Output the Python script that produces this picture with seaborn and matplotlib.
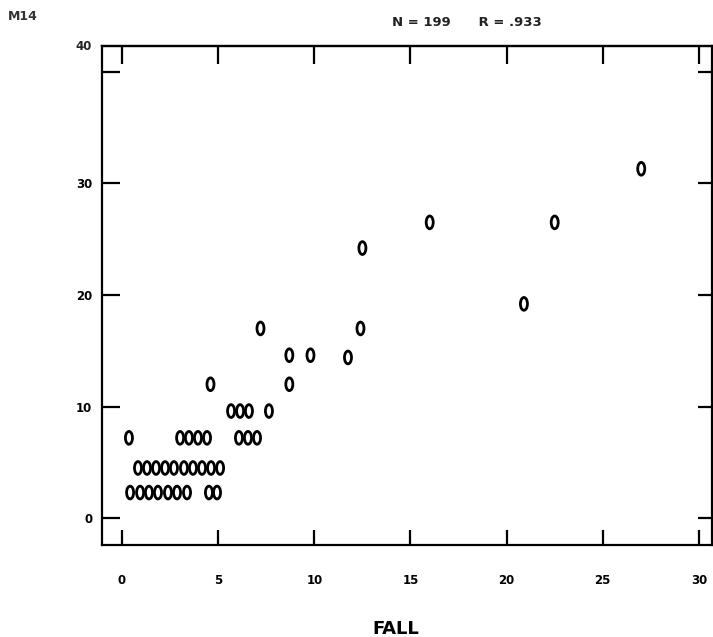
import numpy as np
import pandas as pd
import seaborn as sns
import matplotlib.pyplot as plt
from matplotlib.path import Path
from matplotlib.transforms import Affine2D

# Scores: FALL (x) against M14 (y); one ring per printed plot symbol
fall = [27.0, 16.0, 22.5, 12.5, 20.9, 7.2, 12.4, 8.7, 9.8, 11.75,
        4.6, 8.7,
        5.67, 6.14, 6.6, 7.64,
        0.36, 3.02, 3.48, 3.95, 4.42, 6.08, 6.55, 7.02,
        0.83, 1.30, 1.77, 2.24, 2.70, 3.22, 3.69, 4.16, 4.63, 5.10,
        0.42, 0.94, 1.40, 1.87, 2.39, 2.86, 3.38, 4.52, 4.94]
m14 = [31.3, 26.5, 26.5, 24.2, 19.2, 17.0, 17.0, 14.6, 14.6, 14.4,
       12.0, 12.0,
       9.6, 9.6, 9.6, 9.6,
       7.2, 7.2, 7.2, 7.2, 7.2, 7.2, 7.2, 7.2,
       4.5, 4.5, 4.5, 4.5, 4.5, 4.5, 4.5, 4.5, 4.5, 4.5,
       2.3, 2.3, 2.3, 2.3, 2.3, 2.3, 2.3, 2.3, 2.3]

x_ticks = [0, 5, 10, 15, 20, 25, 30]
y_ticks = [0, 10, 20, 30, 40]
panel_name = "M14"
stats_line = "N = 199      R = .933"
x_name = "FALL"

sns.set_theme(style="white")
plt.rcParams["font.family"] = ["DejaVu Sans"]
plt.rcParams["font.weight"] = "bold"

fig = plt.figure(figsize=(7.13, 6.37), dpi=100)
fig.patch.set_facecolor("white")
ax = fig.add_axes([0.1431, 0.1444, 0.8555, 0.7834])

# narrow ring, like a printed zero
ring = Path.unit_circle().transformed(Affine2D().scale(0.55, 1.0))

df = pd.DataFrame({"FALL": fall, "M14": m14})
sns.scatterplot(data=df, x="FALL", y="M14", marker=ring, s=85,
                color="black", facecolor="none", edgecolor="black",
                linewidth=2.0, ax=ax, legend=False)

ax.set_xlim(-1.04, 30.68)
ax.set_ylim(-2.4, 42.3)

for sp in ax.spines.values():
    sp.set_visible(True)
    sp.set_color("black")
    sp.set_linewidth(1.6)

ax.set_xticks(x_ticks)
ax.set_yticks(y_ticks)
ax.set_xticklabels([str(v) for v in x_ticks])
ax.set_yticklabels([str(v) if v != 40 else "" for v in y_ticks])
ax.tick_params(axis="x", direction="in", length=11, width=1.6, color="black",
               pad=21, labelsize=8.5, labelcolor="black", bottom=True)
ax.tick_params(axis="y", direction="in", length=13, width=1.6, color="black",
               pad=7, labelsize=8.5, labelcolor="black", left=True)
for lbl in ax.get_xticklabels() + ax.get_yticklabels():
    lbl.set_fontweight("bold")

# the top label sits above its tick
ax.annotate("40", xy=(0, 40), xycoords=("axes fraction", "data"),
            xytext=(-7, 18), textcoords="offset points",
            ha="right", va="center", fontsize=8.5, fontweight="bold")

# short inward ticks on the top and right edges
top = ax.secondary_xaxis("top")
top.set_xticks(x_ticks)
top.tick_params(direction="in", length=13, width=1.6, color="black",
                labeltop=False)
top.spines["top"].set_linewidth(1.6)
right = ax.secondary_yaxis("right")
right.set_yticks(y_ticks)
right.tick_params(direction="in", length=10, width=1.6, color="black",
                  labelright=False)

ax.set_xlabel(x_name, fontsize=13, fontweight="bold", color="black")
ax.xaxis.set_label_coords(0.482, -0.15)
ax.set_ylabel("")

fig.text(0.011, 1 - 17 / 637, panel_name, ha="left", va="center",
         fontsize=9, fontweight="bold", color="#333333")
fig.text(0.655, 1 - 22 / 637, stats_line, ha="center", va="center",
         fontsize=9.5, fontweight="bold", color="#222222")

fig.savefig("out.png", dpi=100, facecolor="white")
